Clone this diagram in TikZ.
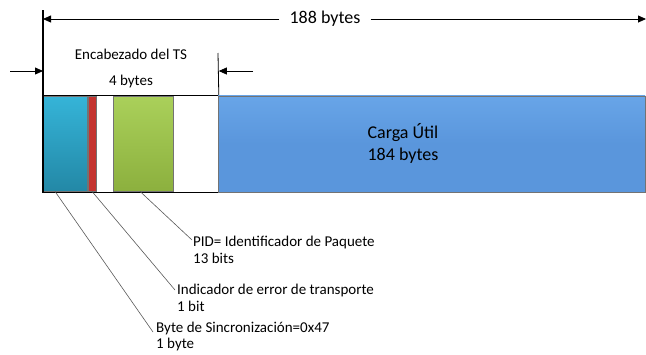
\documentclass[tikz,border=0pt]{standalone}
\usepackage{fontspec}
\setmainfont{Carlito}
\usepackage{xcolor}
\usepackage{tikz}
\usetikzlibrary{arrows.meta,positioning}

\definecolor{synctop}{RGB}{53,180,216}
\definecolor{syncbot}{RGB}{35,136,166}
\definecolor{errred}{RGB}{196,52,48}
\definecolor{pidtop}{RGB}{170,208,90}
\definecolor{pidbot}{RGB}{140,176,62}
\definecolor{paytop}{RGB}{104,165,232}
\definecolor{paybot}{RGB}{90,150,220}

\begin{document}
\begin{tikzpicture}
[x=1pt,y=-1pt,
field/.style={rectangle,draw=black!55,inner sep=0pt,anchor=north west},
leader/.style={draw=black!65,line width=0.6pt},
dim/.style={-{Triangle[length=8pt,width=7pt]},line width=0.8pt},
lbl/.style={anchor=north west,align=left,inner sep=0pt,font=\fontsize{15}{17}\selectfont}];
\useasboundingbox (0,0) rectangle (646,354);

% cabecera y carga util
\node[field,draw=black,line width=0.8pt,minimum width=175pt,minimum height=97pt] (hdr) at (43,95) {};
\node[field,top color=paytop,bottom color=paybot,middle color=paybot,minimum width=427pt,minimum height=96pt] (payload) at (218,95.5) {};
\node[field,top color=synctop,bottom color=syncbot,minimum width=44pt,minimum height=95pt] (sync) at (43,96) {};
\node[field,fill=errred,minimum width=8pt,minimum height=95pt] (err) at (88,96) {};
\node[field,top color=pidtop,bottom color=pidbot,minimum width=60pt,minimum height=95pt] (pid) at (113,96) {};
\draw[line width=1.2pt] (hdr.south west) -- (hdr.north west);

\node[align=left,font=\fontsize{18}{22}\selectfont] (paytxt) at (403,143) {Carga Útil\\184 bytes};

% cotas
\coordinate (lefttop) at (43,10);
\coordinate (righttop) at (218,53);
\draw[line width=1.2pt] (hdr.north west) -- (lefttop);
\draw[line width=0.8pt] (hdr.north east) -- (righttop);

\node[font=\fontsize{18}{21}\selectfont,inner xsep=10pt] (total) at (325,19) {188 bytes};
\coordinate (totl) at (43,19);
\coordinate (totr) at (646,19);
\draw[dim] (total) -- (totl);
\draw[dim] (total) -- (totr);

\node[font=\fontsize{15}{18}\selectfont] (hdrtxt) at (131,54) {Encabezado del TS};
\node[font=\fontsize{15}{18}\selectfont] (hdrbytes) at (131,81) {4 bytes};
\coordinate (lin) at (10,71);
\coordinate (rin) at (253,71);
\draw[dim] (lin) -- (lin -| hdr.west);
\draw[dim] (rin) -- (rin -| hdr.east);

% etiquetas
\node[lbl] (pidtxt) at (193,236) {PID= Identificador de Paquete\\13 bits};
\node[lbl] (errtxt) at (177,284) {Indicador de error de transporte\\1 bit};
\node[lbl,font=\fontsize{15}{16}\selectfont] (synctxt) at (156,322) {Byte de Sincronización=0x47\\1 byte};

\draw[leader] ([xshift=27pt]pid.south west) -- ([yshift=-4pt,xshift=-1pt]pidtxt.north west);
\draw[leader] ([xshift=4pt]err.south west) -- ([yshift=-6pt,xshift=-2pt]errtxt.north west);
\draw[leader] ([xshift=12pt]sync.south west) -- ([yshift=-10pt,xshift=-3pt]synctxt.north west);
\end{tikzpicture}
\end{document}
